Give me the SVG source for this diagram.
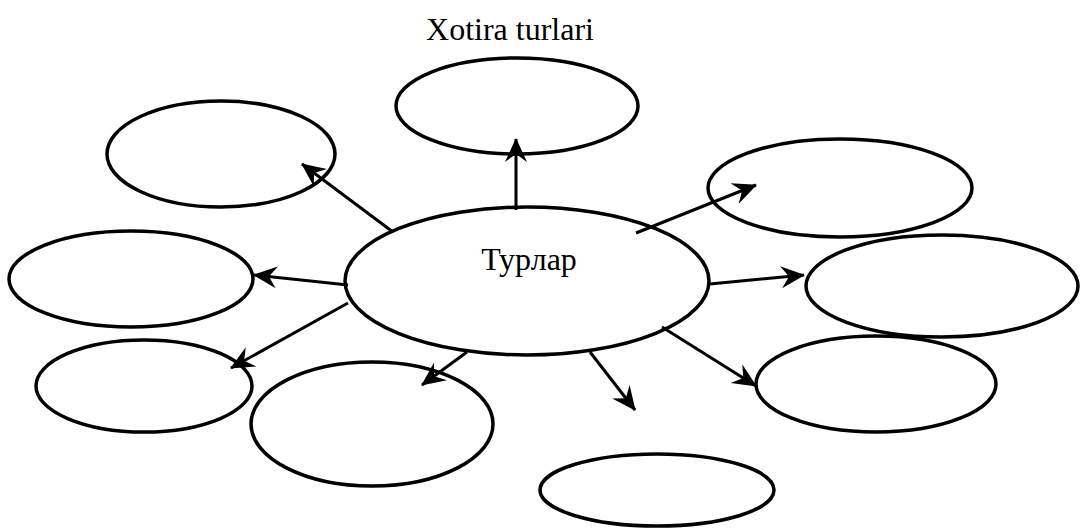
<svg xmlns="http://www.w3.org/2000/svg" width="1082" height="532" viewBox="0 0 1082 532">
<style>
.n{fill:#fff;stroke:#000;stroke-width:3.5}
.c line{stroke:#000;stroke-width:3;marker-end:url(#ah)}
text{font-family:"Liberation Serif","Times New Roman",serif;font-size:32px;fill:#000;text-anchor:middle}
</style>
<defs>
<marker id="ah" viewBox="0 0 24 24" refX="23" refY="12" markerWidth="24" markerHeight="24" markerUnits="userSpaceOnUse" orient="auto">
<path d="M0,1 L24,12 L0,23 L8,12 z" fill="#000"/>
</marker>
</defs>
<rect width="1082" height="532" fill="#fff"/>
<text x="510" y="40">Xotira turlari</text>
<g id="n-top"><ellipse class="n" cx="517" cy="106" rx="121" ry="48"/></g>
<g id="n-topleft"><ellipse class="n" cx="221" cy="154" rx="114" ry="53"/></g>
<g id="n-left"><ellipse class="n" cx="131" cy="279" rx="122" ry="48"/></g>
<g id="n-lowerleft"><ellipse class="n" cx="144" cy="386" rx="108" ry="46"/></g>
<g id="n-bottomleft"><ellipse class="n" cx="372" cy="424" rx="121" ry="62"/></g>
<g id="n-bottom"><ellipse class="n" cx="657" cy="490" rx="117" ry="36"/></g>
<g id="n-lowerright"><ellipse class="n" cx="876" cy="384" rx="120" ry="48"/></g>
<g id="n-right"><ellipse class="n" cx="942" cy="286" rx="136" ry="51"/></g>
<g id="n-topright"><ellipse class="n" cx="840" cy="188" rx="132" ry="49"/></g>
<g id="n-center"><ellipse class="n" cx="527" cy="281" rx="182" ry="74"/><text x="529" y="270">Турлар</text></g>
<g class="c" id="connectors">
<line x1="516" y1="210" x2="516" y2="139"/>
<line x1="393" y1="232" x2="302" y2="164"/>
<line x1="636" y1="233" x2="756" y2="185"/>
<line x1="348" y1="285" x2="254" y2="275"/>
<line x1="348" y1="303" x2="231" y2="368"/>
<line x1="467" y1="352" x2="422" y2="385"/>
<line x1="590" y1="352" x2="635" y2="410"/>
<line x1="710" y1="284" x2="804" y2="275"/>
<line x1="662" y1="327" x2="756" y2="386"/>
</g>
</svg>
